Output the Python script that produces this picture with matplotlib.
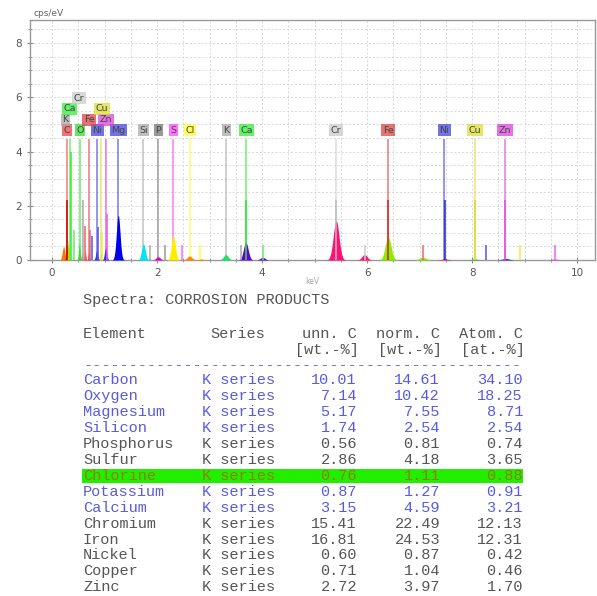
import numpy as np
import matplotlib.pyplot as plt
from matplotlib.ticker import MultipleLocator

# ---- spectrum data (keV, cps/eV) ----
peak_kev = [0.22, 0.28, 0.31, 0.52, 0.57, 0.63, 0.70, 0.85, 0.93, 1.02, 1.26,
            1.74, 2.02, 2.31, 2.62, 2.83, 3.31, 3.69, 4.01, 5.41, 5.95, 6.40,
            7.06, 7.48, 8.05, 8.64, 9.57]
peak_height = [0.50, 0.55, 0.70, 0.60, 0.30, 0.35, 0.30, 0.35, 0.30, 0.45, 1.65,
               0.60, 0.12, 0.90, 0.15, 0.05, 0.20, 0.65, 0.10, 1.45, 0.20, 0.85,
               0.10, 0.04, 0.04, 0.06, 0.04]
peak_sigma = [0.025, 0.015, 0.015, 0.015, 0.012, 0.012, 0.012, 0.02, 0.012, 0.022, 0.035,
              0.035, 0.04, 0.038, 0.045, 0.03, 0.045, 0.045, 0.045, 0.055, 0.05, 0.055,
              0.06, 0.06, 0.06, 0.065, 0.06]
peak_color = ['#ff7700', '#ee2222', '#88ee00', '#33dd33', '#ff66aa', '#ee4444', '#ee4444',
              '#3333ee', '#eedd00', '#3333ee', '#0000ee', '#00e5ee', '#dd00cc', '#ffee00',
              '#ff8800', '#ff8800', '#22dd66', '#6600dd', '#6600dd', '#ff1177', '#ff1177',
              '#88ee00', '#88ee00', '#ee2222', '#33cc33', '#3333ee', '#ee44ee']

# secondary line markers (energy, height, colour)
line_kev = [0.29, 0.36, 0.42, 0.58, 0.63, 0.72, 0.76, 0.87, 0.95, 1.04, 1.87, 2.15,
            2.48, 2.82, 3.60, 3.69, 4.01, 5.41, 5.96, 6.40, 7.06, 7.48, 8.05, 8.27,
            8.63, 8.91, 9.57]
line_height = [2.2, 4.0, 1.1, 2.2, 1.25, 1.1, 0.9, 1.2, 1.05, 1.7, 0.55, 0.55,
               0.55, 0.55, 0.55, 2.2, 0.55, 2.2, 0.55, 2.2, 0.55, 2.2, 2.2, 0.55,
               2.2, 0.55, 0.55]
line_color = ['#cc0000', '#33ee33', '#66ee66', '#aaaaaa', '#ee6666', '#ee6666', '#5555ee',
              '#5555ee', '#eeee44', '#ee55ee', '#aaaaaa', '#999999', '#ff66ff', '#ffff44',
              '#aaaaaa', '#22ee22', '#66ee66', '#bbbbbb', '#cccccc', '#dd2222', '#ee6666',
              '#2222dd', '#dddd22', '#5555ee', '#ee44ee', '#eeee44', '#ee66ee']

# element identification lines with labels
elem_label = ['C', 'K', 'Ca', 'O', 'Cr', 'Fe', 'Ni', 'Cu', 'Zn', 'Mg', 'Si', 'P', 'S',
              'Cl', 'K', 'Ca', 'Cr', 'Fe', 'Ni', 'Cu', 'Zn']
elem_kev = [0.28, 0.25, 0.33, 0.53, 0.51, 0.71, 0.86, 0.95, 1.03, 1.26, 1.74, 2.02, 2.31,
            2.63, 3.32, 3.70, 5.41, 6.40, 7.47, 8.05, 8.63]
elem_line_kev = [0.28, None, 0.34, 0.53, None, 0.70, 0.86, 0.93, 1.02, 1.26, 1.74, 2.02, 2.31,
                 2.63, 3.32, 3.70, 5.41, 6.40, 7.47, 8.05, 8.63]
elem_row = [0, 1, 2, 0, 3, 1, 0, 2, 1, 0, 0, 0, 0, 0, 0, 0, 0, 0, 0, 0, 0]
elem_color = ['#ee4444', '#aaaaaa', '#33ee33', '#33dd33', '#cccccc', '#dd4444', '#4444dd',
              '#dddd33', '#dd44dd', '#4444dd', '#aaaaaa', '#777777', '#ff44ff', '#ffff33',
              '#aaaaaa', '#33ee33', '#cccccc', '#dd4444', '#4444dd', '#dddd33', '#dd44dd']

# ---- quantification table ----
tbl_element = ['Carbon', 'Oxygen', 'Magnesium', 'Silicon', 'Phosphorus', 'Sulfur', 'Chlorine',
               'Potassium', 'Calcium', 'Chromium', 'Iron', 'Nickel', 'Copper', 'Zinc']
tbl_series = ['K series'] * 14
tbl_unn = ['10.01', '7.14', '5.17', '1.74', '0.56', '2.86', '0.76', '0.87', '3.15',
           '15.41', '16.81', '0.60', '0.71', '2.72']
tbl_norm = ['14.61', '10.42', '7.55', '2.54', '0.81', '4.18', '1.11', '1.27', '4.59',
            '22.49', '24.53', '0.87', '1.04', '3.97']
tbl_atom = ['34.10', '18.25', '8.71', '2.54', '0.74', '3.65', '0.88', '0.91', '3.21',
            '12.13', '12.31', '0.42', '0.46', '1.70']
tbl_kind = ['blue', 'blue', 'blue', 'blue', 'gray', 'gray', 'hl', 'blue', 'blue',
            'gray', 'gray', 'gray', 'gray', 'gray']

W, H = 597, 596
fig = plt.figure(figsize=(W / 100, H / 100), dpi=100)
fig.patch.set_facecolor('white')

ax = fig.add_axes([30 / W, 1 - 260 / H, 565 / W, 240 / H])
ax.set_xlim(-0.42, 10.34)
ax.set_ylim(0, 8.85)

x = np.arange(-0.42, 10.34, 0.002)
for c, h, s, col in zip(peak_kev, peak_height, peak_sigma, peak_color):
    y = h * np.exp(-0.5 * ((x - c) / s) ** 2)
    m = y > 0.005
    ax.fill_between(x[m], 0, y[m], color=col, lw=0, zorder=3)

for lk, col in zip(elem_line_kev, elem_color):
    if lk is not None:
        ax.vlines(lk, 0, 4.45, color=col, lw=1.3, alpha=0.6, zorder=2)

ax.vlines(line_kev, 0, line_height, colors=line_color, lw=1.3, alpha=0.85, zorder=4)

row_y = [4.78, 5.18, 5.57, 5.96]
for lab, k, r, col in zip(elem_label, elem_kev, elem_row, elem_color):
    ax.text(k, row_y[r], lab, ha='center', va='center', fontsize=6.8, color='#444444',
            zorder=6 + r, bbox=dict(boxstyle='square,pad=0.16', fc=col, ec='none', alpha=0.75))

ax.xaxis.set_major_locator(MultipleLocator(2))
ax.xaxis.set_minor_locator(MultipleLocator(0.5))
ax.yaxis.set_major_locator(MultipleLocator(2))
ax.yaxis.set_minor_locator(MultipleLocator(0.5))
ax.grid(True, which='both', color='#d8d8d8', linestyle=(0, (2, 2)), lw=0.7, zorder=0)
ax.set_axisbelow(True)
ax.tick_params(which='both', direction='inout', colors='#888888', labelcolor='#555555',
               labelsize=7.5)
ax.tick_params(which='major', length=5)
ax.tick_params(which='minor', length=3)
for sp in ax.spines.values():
    sp.set_color('#999999')
    sp.set_linewidth(1.0)

fig.text(33 / W, 1 - 14 / H, 'cps/eV', fontsize=6.5, color='#666666', va='center')
fig.text(305 / W, 1 - 281 / H, 'keV', fontsize=5.5, color='#aaaaaa', va='center')

# ---- table ----
mono = 'Liberation Mono'
fs = 11
gray = '#555555'
blue = '#5a5ae0'
fig.text(83 / W, 1 - 300 / H, 'Spectra: CORROSION PRODUCTS', family=mono, fontsize=fs,
         color=gray, va='center')
fig.text(83 / W, 1 - 334 / H, 'Element', family=mono, fontsize=fs, color=gray, va='center')
fig.text(210 / W, 1 - 334 / H, 'Series', family=mono, fontsize=fs, color=gray, va='center')
for xr, h1, h2 in [(357, 'unn. C', '[wt.-%]'), (440, 'norm. C', '[wt.-%]'),
                   (523, 'Atom. C', '[at.-%]')]:
    fig.text(xr / W, 1 - 334 / H, h1, family=mono, fontsize=fs, color=gray, va='center',
             ha='right')
    fig.text((xr + 2) / W, 1 - 350 / H, h2, family=mono, fontsize=fs, color=gray,
             va='center', ha='right')
fig.text(83 / W, 1 - 365 / H, '-' * 48, family=mono, fontsize=fs, color='#7777bb',
         va='center')

row0, dy = 380, 15.95
for i, (el, se, u, n, a, kind) in enumerate(zip(tbl_element, tbl_series, tbl_unn,
                                                 tbl_norm, tbl_atom, tbl_kind)):
    yy = 1 - (row0 + i * dy) / H
    col = {'blue': blue, 'gray': gray, 'hl': '#8a8000'}[kind]
    if kind == 'hl':
        fig.patches.append(plt.Rectangle((82 / W, yy - 7 / H), 441 / W, 14 / H,
                                         transform=fig.transFigure, fc='#22ee00',
                                         ec='none', zorder=0))
    fig.text(83 / W, yy, el, family=mono, fontsize=fs, color=col, va='center')
    fig.text(202 / W, yy, se, family=mono, fontsize=fs, color=col, va='center')
    fig.text(357 / W, yy, u, family=mono, fontsize=fs, color=col, va='center', ha='right')
    fig.text(440 / W, yy, n, family=mono, fontsize=fs, color=col, va='center', ha='right')
    fig.text(523 / W, yy, a, family=mono, fontsize=fs, color=col, va='center', ha='right')

fig.savefig('out.png', dpi=100)
